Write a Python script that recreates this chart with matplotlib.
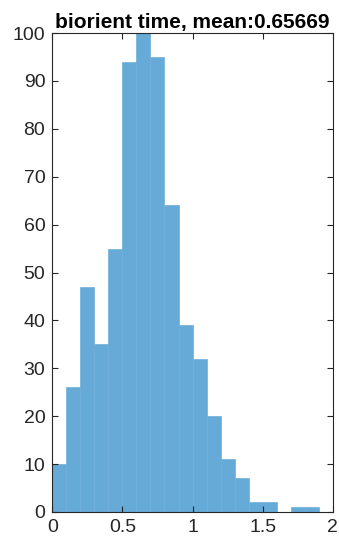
import numpy as np
import matplotlib
matplotlib.use("Agg")
import matplotlib.pyplot as plt

plt.rcParams['font.family'] = ['Liberation Sans', 'DejaVu Sans']

# histogram of biorientation times (bin width 0.1)
bin_edges = [0.0, 0.1, 0.2, 0.3, 0.4, 0.5, 0.6, 0.7, 0.8, 0.9, 1.0,
             1.1, 1.2, 1.3, 1.4, 1.5, 1.6, 1.7, 1.8, 1.9]
counts = [10, 26, 47, 35, 55, 94, 100, 95, 64, 39, 32, 20, 11, 7, 2, 2, 0, 1, 1]
mean_value = 0.65669

fig = plt.figure(figsize=(3.39, 5.42), dpi=100)
ax = fig.add_axes([0.154, 0.0554, 0.828, 0.8836])

ax.hist(bin_edges[:-1], bins=bin_edges, weights=counts,
        facecolor='#66aad7', edgecolor='#6eaeda', linewidth=0.5)

ax.set_xlim(0, 2)
ax.set_ylim(0, 100)
ax.set_xticks([0, 0.5, 1, 1.5, 2])
ax.set_xticklabels(['0', '0.5', '1', '1.5', '2'])
ax.set_yticks(range(0, 101, 10))
ax.tick_params(direction='in', top=True, right=True, length=4, width=0.8,
               labelsize=14, colors='#262626', pad=5)
for s in ax.spines.values():
    s.set_color('#262626')
    s.set_linewidth(0.8)

ax.set_title(f'biorient time, mean:{mean_value}', fontsize=15,
             fontweight='bold', pad=4)

fig.savefig('out.png', dpi=100)
